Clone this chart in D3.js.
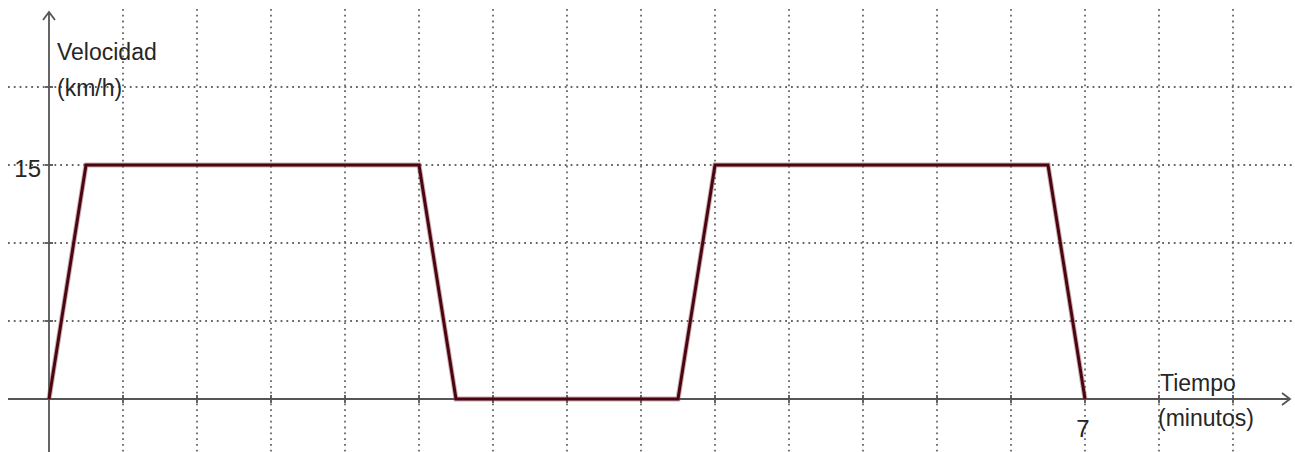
<!DOCTYPE html>
<html>
<head>
<meta charset="utf-8">
<script src="https://cdn.jsdelivr.net/npm/d3@7"></script>
<style>
  body { margin: 0; background: #fff; }
  text { font-family: "Liberation Sans", Arial, sans-serif; fill: #262626; }
</style>
</head>
<body>
<svg id="chart" width="1295" height="452"></svg>
<script>
// datos
var tiempo = [0, 0.25, 2.5, 2.75, 4.25, 4.5, 6.75, 7];
var velocidad = [0, 15, 15, 0, 0, 15, 15, 0];
var gridX = [0, 0.5, 1, 1.5, 2, 2.5, 3, 3.5, 4, 4.5, 5, 5.5, 6, 6.5, 7, 7.5, 8];
var gridY = [0, 5, 10, 15, 20];
var etiquetasX = [{v: 7, t: "7"}];
var etiquetasY = [{v: 15, t: "15"}];

var svg = d3.select("#chart");
var W = 1295, H = 452;

var x = d3.scaleLinear().domain([0, 7]).range([49, 1085]);
var y = d3.scaleLinear().domain([0, 15]).range([399, 165]);

// grid punteado
var grid = svg.append("g").attr("class", "grid")
    .attr("stroke", "#666")
    .attr("stroke-width", 1.8)
    .attr("stroke-dasharray", "1.8,4");

grid.selectAll("line.gx").data(gridX.filter(function(d){ return d !== 0; }))
  .enter().append("line")
    .attr("class", "gx")
    .attr("x1", function(d){ return x(d); })
    .attr("x2", function(d){ return x(d); })
    .attr("y1", 9)
    .attr("y2", H);

grid.selectAll("line.gy").data(gridY.filter(function(d){ return d !== 0; }))
  .enter().append("line")
    .attr("class", "gy")
    .attr("x1", 8)
    .attr("x2", W)
    .attr("y1", function(d){ return y(d); })
    .attr("y2", function(d){ return y(d); });

// ejes
var ejes = svg.append("g").attr("stroke", "#555").attr("stroke-width", 1.8).attr("fill", "none");
ejes.append("line").attr("x1", 8).attr("x2", 1290).attr("y1", y(0)).attr("y2", y(0));
ejes.append("path").attr("d", "M1282 " + (y(0) - 6) + " L1290 " + y(0) + " L1282 " + (y(0) + 6));
ejes.append("line").attr("x1", x(0)).attr("x2", x(0)).attr("y1", 12).attr("y2", H);
ejes.append("path").attr("d", "M" + (x(0) - 6) + " 20 L" + x(0) + " 12 L" + (x(0) + 6) + " 20");

// marcas
ejes.selectAll("line.tx").data(gridX.filter(function(d){ return d !== 0; }))
  .enter().append("line")
    .attr("x1", function(d){ return x(d); })
    .attr("x2", function(d){ return x(d); })
    .attr("y1", y(0) - 4)
    .attr("y2", y(0) + 4);
ejes.selectAll("line.ty").data(gridY.filter(function(d){ return d !== 0; }))
  .enter().append("line")
    .attr("x1", x(0) - 4)
    .attr("x2", x(0) + 4)
    .attr("y1", function(d){ return y(d); })
    .attr("y2", function(d){ return y(d); });

// linea velocidad-tiempo
var puntos = tiempo.map(function(t, i){ return [t, velocidad[i]]; });
var linea = d3.line()
    .x(function(d){ return x(d[0]); })
    .y(function(d){ return y(d[1]); });

svg.append("path").datum(puntos)
    .attr("d", linea)
    .attr("fill", "none")
    .attr("stroke", "#8a4a52")
    .attr("stroke-width", 5)
    .attr("stroke-opacity", 0.45)
    .attr("stroke-linejoin", "miter");
svg.append("path").datum(puntos)
    .attr("d", linea)
    .attr("fill", "none")
    .attr("stroke", "#4a0510")
    .attr("stroke-width", 3)
    .attr("stroke-linejoin", "miter");

// etiquetas
svg.selectAll("text.lx").data(etiquetasX).enter().append("text")
    .attr("x", function(d){ return x(d.v) - 2; })
    .attr("y", 437)
    .attr("text-anchor", "middle")
    .attr("font-size", 24)
    .text(function(d){ return d.t; });

svg.selectAll("text.ly").data(etiquetasY).enter().append("text")
    .attr("x", 41)
    .attr("y", y(15) + 12)
    .attr("text-anchor", "end")
    .attr("font-size", 24)
    .text(function(d){ return d.t; });

svg.append("text").attr("x", 57).attr("y", 60).attr("font-size", 23).text("Velocidad");
svg.append("text").attr("x", 57).attr("y", 96).attr("font-size", 23).text("(km/h)");
svg.append("text").attr("x", 1160).attr("y", 391).attr("font-size", 23).text("Tiempo");
svg.append("text").attr("x", 1158).attr("y", 426).attr("font-size", 23).text("(minutos)");
</script>
</body>
</html>
